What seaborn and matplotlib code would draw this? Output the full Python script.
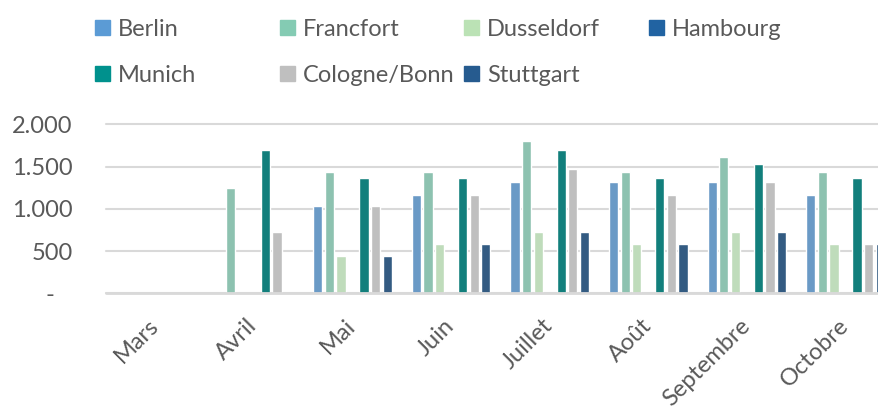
import pandas as pd
import matplotlib.pyplot as plt
import seaborn as sns
from matplotlib.patches import Patch
from matplotlib.ticker import FuncFormatter

months = ["Mars", "Avril", "Mai", "Juin", "Juillet", "Août", "Septembre", "Octobre"]
cities = ["Berlin", "Francfort", "Dusseldorf", "Hambourg", "Munich", "Cologne/Bonn", "Stuttgart"]

berlin = [0, 0, 1030, 1170, 1320, 1320, 1320, 1170]
francfort = [0, 1250, 1440, 1440, 1800, 1440, 1610, 1440]
dusseldorf = [0, 0, 440, 590, 730, 590, 730, 590]
hambourg = [0, 0, 0, 0, 0, 0, 0, 0]
munich = [0, 1700, 1360, 1360, 1700, 1360, 1530, 1360]
cologne = [0, 730, 1030, 1170, 1470, 1170, 1320, 590]
stuttgart = [0, 0, 440, 590, 730, 590, 730, 590]

colors = ["#5B9BD5", "#84CBB3", "#BBE2B5", "#2163A2", "#00918D", "#BFBFBF", "#265B8F"]
text_color = "#595959"

series = [berlin, francfort, dusseldorf, hambourg, munich, cologne, stuttgart]
rows = []
for city, vals in zip(cities, series):
    for m, v in zip(months, vals):
        rows.append({"mois": m, "ville": city, "valeur": v})
df = pd.DataFrame(rows)

sns.set_style("white")
plt.rcParams["font.family"] = ["Lato", "DejaVu Sans"]

fig = plt.figure(figsize=(8.79, 4.12), dpi=100)
ax = fig.add_axes([0.1206, 0.288, 0.8794, 0.410])

sns.barplot(data=df, x="mois", y="valeur", hue="ville", order=months,
            hue_order=cities, palette=colors, width=0.82, gap=0.2,
            legend=False, ax=ax, zorder=2)

ax.set_ylim(0, 2000)
ax.set_xlim(-0.5, 7.34)
ax.set_yticks([0, 500, 1000, 1500, 2000])
ax.yaxis.set_major_formatter(FuncFormatter(
    lambda v, p: "-   " if v == 0 else f"{v:,.0f}".replace(",", ".")))
ax.yaxis.grid(True, color="#D9D9D9", linewidth=1.5, clip_on=False)
ax.set_axisbelow(True)
ax.axhline(0, color="#D9D9D9", linewidth=2, zorder=3, clip_on=False)
for s in ax.spines.values():
    s.set_visible(False)
ax.set_xlabel("")
ax.set_ylabel("")
ax.tick_params(axis="y", length=0, pad=24, labelsize=17, labelcolor=text_color)
ax.tick_params(axis="x", length=0, pad=21, labelsize=17, labelcolor=text_color)
plt.setp(ax.get_xticklabels(), rotation=45, ha="right", va="center",
         rotation_mode="anchor")

# legend, one block per column like the Excel layout
cols = [["Berlin", "Munich"], ["Francfort", "Cologne/Bonn"],
        ["Dusseldorf", "Stuttgart"], ["Hambourg"]]
xpos = [0.0865, 0.297, 0.5065, 0.7165]
for names, x in zip(cols, xpos):
    handles = [Patch(color=colors[cities.index(n)]) for n in names]
    leg = fig.legend(handles, names, loc="upper left", bbox_to_anchor=(x, 1.0),
                     frameon=False, fontsize=17, handlelength=0.64,
                     handleheight=0.64, handletextpad=0.34, labelspacing=1.05,
                     borderaxespad=0.4)
    for t in leg.get_texts():
        t.set_color(text_color)

fig.savefig("out.png", dpi=100)
